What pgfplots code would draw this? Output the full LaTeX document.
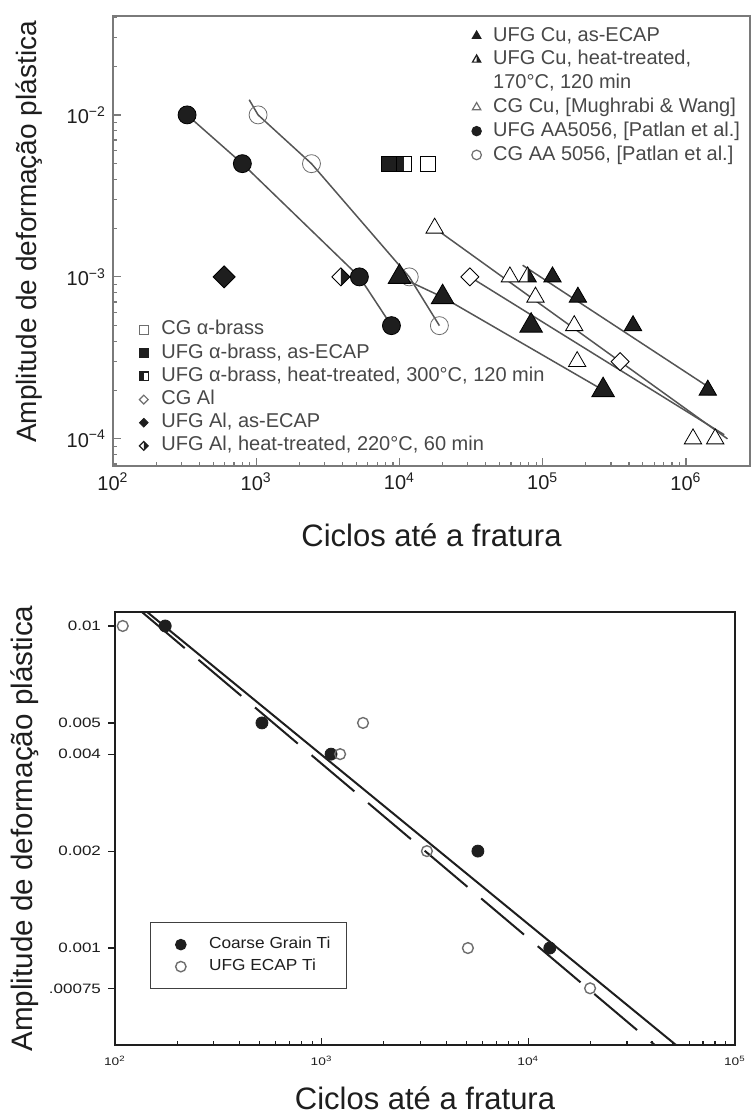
\documentclass[border=0pt]{standalone}
\usepackage{fontspec}
\setmainfont{Liberation Sans}
\usepackage{graphicx}
\usepackage{pgfplots}
\pgfplotsset{compat=1.18}

\definecolor{ink}{HTML}{1E1E1E}
\definecolor{txt}{HTML}{484848}
\definecolor{frame}{HTML}{7A7A7A}
\definecolor{fitline}{HTML}{555555}
\definecolor{hollow}{HTML}{6E6E6E}

\newcommand{\wide}[1]{\scalebox{1.25}[1]{#1}}

% triangle, centred on the point, outline and fill from the mark options
\pgfdeclareplotmark{tri}{%
  \pgfpathmoveto{\pgfqpointpolar{90}{\pgfplotmarksize}}%
  \pgfpathlineto{\pgfqpointpolar{-30}{\pgfplotmarksize}}%
  \pgfpathlineto{\pgfqpointpolar{210}{\pgfplotmarksize}}%
  \pgfpathclose\pgfusepathqfillstroke}
% triangle with its right half filled
\pgfdeclareplotmark{trihalf}{%
  \pgfpathmoveto{\pgfqpointpolar{90}{\pgfplotmarksize}}%
  \pgfpathlineto{\pgfqpointpolar{-30}{\pgfplotmarksize}}%
  \pgfpathlineto{\pgfqpointpolar{210}{\pgfplotmarksize}}%
  \pgfpathclose\pgfusepathqfill
  \pgfsetfillcolor{ink}%
  \pgfpathmoveto{\pgfqpointpolar{90}{\pgfplotmarksize}}%
  \pgfpathlineto{\pgfqpointpolar{-30}{\pgfplotmarksize}}%
  \pgfpathlineto{\pgfpoint{0pt}{-0.5\pgfplotmarksize}}%
  \pgfpathclose\pgfusepathqfill
  \pgfpathmoveto{\pgfqpointpolar{90}{\pgfplotmarksize}}%
  \pgfpathlineto{\pgfqpointpolar{-30}{\pgfplotmarksize}}%
  \pgfpathlineto{\pgfqpointpolar{210}{\pgfplotmarksize}}%
  \pgfpathclose\pgfusepathqstroke}
% diamond with equal diagonals
\pgfdeclareplotmark{dia}{%
  \pgfpathmoveto{\pgfpoint{0pt}{\pgfplotmarksize}}%
  \pgfpathlineto{\pgfpoint{\pgfplotmarksize}{0pt}}%
  \pgfpathlineto{\pgfpoint{0pt}{-\pgfplotmarksize}}%
  \pgfpathlineto{\pgfpoint{-\pgfplotmarksize}{0pt}}%
  \pgfpathclose\pgfusepathqfillstroke}
% diamond with its right half filled
\pgfdeclareplotmark{diahalf}{%
  \pgfpathmoveto{\pgfpoint{0pt}{\pgfplotmarksize}}%
  \pgfpathlineto{\pgfpoint{\pgfplotmarksize}{0pt}}%
  \pgfpathlineto{\pgfpoint{0pt}{-\pgfplotmarksize}}%
  \pgfpathlineto{\pgfpoint{-\pgfplotmarksize}{0pt}}%
  \pgfpathclose\pgfusepathqfill
  \pgfsetfillcolor{ink}%
  \pgfpathmoveto{\pgfpoint{0pt}{\pgfplotmarksize}}%
  \pgfpathlineto{\pgfpoint{\pgfplotmarksize}{0pt}}%
  \pgfpathlineto{\pgfpoint{0pt}{-\pgfplotmarksize}}%
  \pgfpathclose\pgfusepathqfill
  \pgfpathmoveto{\pgfpoint{0pt}{\pgfplotmarksize}}%
  \pgfpathlineto{\pgfpoint{\pgfplotmarksize}{0pt}}%
  \pgfpathlineto{\pgfpoint{0pt}{-\pgfplotmarksize}}%
  \pgfpathlineto{\pgfpoint{-\pgfplotmarksize}{0pt}}%
  \pgfpathclose\pgfusepathqstroke}
% square with its left half filled
\pgfdeclareplotmark{sqhalf}{%
  \pgfpathrectangle{\pgfpoint{-\pgfplotmarksize}{-\pgfplotmarksize}}{\pgfpoint{2\pgfplotmarksize}{2\pgfplotmarksize}}%
  \pgfusepathqfill
  \pgfsetfillcolor{ink}%
  \pgfpathrectangle{\pgfpoint{-\pgfplotmarksize}{-\pgfplotmarksize}}{\pgfpoint{\pgfplotmarksize}{2\pgfplotmarksize}}%
  \pgfusepathqfill
  \pgfpathrectangle{\pgfpoint{-\pgfplotmarksize}{-\pgfplotmarksize}}{\pgfpoint{2\pgfplotmarksize}{2\pgfplotmarksize}}%
  \pgfusepathqstroke}

\pgfplotsset{
  mk/.style={only marks, forget plot, mark options={solid, draw=ink, line width=0.7pt}},
  fit/.style={fitline, line width=0.75pt, no marks, forget plot},
  legimg/.style={legend image code/.code={%
      \path (0pt,0pt) (8pt,0pt);
      \draw[##1, only marks, mark size=#1] plot coordinates {(4pt,0pt)};}},
  legimgwide/.style={legend image code/.code={%
      \path (-4pt,0pt) (8pt,0pt);
      \draw[##1, only marks, mark size=#1] plot coordinates {(4pt,0pt)};}},
}

\begin{document}
\begin{tikzpicture}
\fill[white] (0,0) rectangle (376pt,558.5pt);
\useasboundingbox (0,0) rectangle (376pt,558.5pt);

% ---------------- upper figure: strain amplitude vs cycles, Cu / Al / brass
\begin{axis}[
  at={(56.5pt,325.5pt)}, anchor=south west,
  scale only axis, width=318.5pt, height=225pt,
  xmode=log, ymode=log, log basis x=10, log basis y=10,
  xmin=100, xmax=2.8e6, ymin=6.8e-5, ymax=0.0408,
  axis line style={draw=frame, line width=1pt},
  tick align=inside, xtick pos=left, ytick pos=left,
  major tick length=4pt, minor tick length=2.2pt,
  every tick/.style={draw=frame, line width=0.6pt},
  tick label style={font=\fontsize{10}{12}\selectfont, text=ink},
  xticklabel={\pgfmathtruncatemacro\ex{round(\tick)}10\textsuperscript{\ex}},
  yticklabel={\pgfmathtruncatemacro\ex{round(\tick)}10\textsuperscript{\ifnum\ex<0 −\number\numexpr-\ex\relax\else\ex\fi}},
  xlabel={Ciclos até a fratura},
  ylabel={Amplitude de deformação plástica},
  every axis x label/.style={at={(axis description cs:0.5,-0.153)}, anchor=center,
    font=\fontsize{15.5}{17}\selectfont, text=ink},
  every axis y label/.style={at={(axis description cs:-0.132,0.52)}, anchor=center, rotate=90,
    font=\fontsize{14}{16}\selectfont, text=ink},
  legimg=2.4pt, legend cell align=left,
  legend style={at={(0.557,0.983)}, anchor=north west, draw=none, fill=none,
    font=\fontsize{10}{12}\selectfont, text=txt, row sep=0pt, column sep=3pt, inner sep=0pt,
    nodes={inner sep=1.1pt, text height=7.4pt, text depth=2.3pt}},
]
% fit lines
\addplot[fit] coordinates {(329,0.01) (800,0.005) (5250,0.001) (8790,0.0005)};
\addplot[fit] coordinates {(893,0.0124) (1030,0.01) (2430,0.005) (11700,0.001) (19000,0.0005)};
\addplot[fit] coordinates {(10000,0.001) (20000,0.00075) (264000,0.0002)};
\addplot[fit] coordinates {(72400,0.00118) (1550000,0.0002)};
\addplot[fit] coordinates {(17600,0.002) (1950000,0.0001)};
\addplot[fit] coordinates {(31000,0.001) (1850000,0.000106)};
% UFG AA5056
\addplot[mk, mark=*, mark size=4.5pt, mark options={fill=ink}] coordinates {
  (329,0.01) (800,0.005) (5250,0.001) (8790,0.0005)};
% CG AA 5056
\addplot[mk, mark=o, mark size=4.5pt, mark options={draw=hollow}] coordinates {
  (1030,0.01) (2430,0.005) (11700,0.001) (19000,0.0005)};
% CG Cu
\addplot[mk, mark=tri, mark size=5pt, mark options={fill=white}] coordinates {
  (17600,0.002) (59000,0.001) (89000,0.00075) (166000,0.0005) (174000,0.0003)
  (1120000,0.0001) (1600000,0.0001)};
% UFG Cu, heat-treated
\addplot[mk, mark=trihalf, mark size=5pt, mark options={fill=white}] coordinates {
  (78500,0.001) (117000,0.001) (176000,0.00075) (427000,0.0005) (1420000,0.0002)};
% UFG Cu, as-ECAP
\addplot[mk, mark=tri, mark size=6.5pt, mark options={fill=ink}] coordinates {
  (10000,0.001) (20000,0.00075) (83000,0.0005) (264000,0.0002)};
% alpha-brass
\addplot[mk, mark=square*, mark size=3.75pt, mark options={fill=ink}] coordinates {(8500,0.005)};
\addplot[mk, mark=sqhalf, mark size=3.75pt, mark options={fill=white}] coordinates {(10700,0.005)};
\addplot[mk, mark=square, mark size=3.75pt, mark options={fill=white}] coordinates {(15700,0.005)};
% Al
\addplot[mk, mark=dia, mark size=4.5pt, mark options={fill=white}] coordinates {(31000,0.001) (347000,0.0003)};
\addplot[mk, mark=dia, mark size=5.5pt, mark options={fill=ink}] coordinates {(597,0.001)};
\addplot[mk, mark=diahalf, mark size=4.5pt, mark options={fill=white}] coordinates {(3900,0.001)};

\addlegendimage{only marks, mark=tri, mark options={draw=ink, fill=ink, line width=0.6pt}}
\addlegendentry{UFG Cu, as-ECAP}
\addlegendimage{only marks, mark=trihalf, mark options={draw=ink, fill=white, line width=0.6pt}}
\addlegendentry{UFG Cu, heat-treated,}
\addlegendimage{empty legend}
\addlegendentry{170°C, 120 min}
\addlegendimage{only marks, mark=tri, mark options={draw=hollow, fill=white, line width=0.6pt}}
\addlegendentry{CG Cu, [Mughrabi \& Wang]}
\addlegendimage{only marks, mark=*, mark options={draw=ink, fill=ink}}
\addlegendentry{UFG AA5056, [Patlan et al.]}
\addlegendimage{only marks, mark=o, mark options={draw=hollow, line width=0.6pt}}
\addlegendentry{CG AA 5056, [Patlan et al.]}
\end{axis}

% second legend of the upper figure (brass and Al)
\begin{axis}[
  at={(56.5pt,325.5pt)}, anchor=south west,
  scale only axis, width=318.5pt, height=225pt,
  xmode=log, ymode=log, xmin=100, xmax=2.8e6, ymin=6.8e-5, ymax=0.0408,
  hide axis,
  legimg=2.2pt, legend cell align=left,
  legend style={at={(0.0345,0.329)}, anchor=north west, draw=none, fill=none,
    font=\fontsize{10}{12}\selectfont, text=txt, row sep=0pt, column sep=3.5pt, inner sep=0pt,
    nodes={inner sep=1.1pt, text height=7.2pt, text depth=2.2pt}},
]
\addplot[draw=none, forget plot] coordinates {(1000,0.001)};
\addlegendimage{only marks, mark=square, mark options={draw=hollow, fill=white, line width=0.6pt}}
\addlegendentry{CG α-brass}
\addlegendimage{only marks, mark=square*, mark options={draw=ink, fill=ink}}
\addlegendentry{UFG α-brass, as-ECAP}
\addlegendimage{only marks, mark=sqhalf, mark options={draw=ink, fill=white, line width=0.6pt}}
\addlegendentry{UFG α-brass, heat-treated, 300°C, 120 min}
\addlegendimage{only marks, mark=dia, mark options={draw=hollow, fill=white, line width=0.6pt}}
\addlegendentry{CG Al}
\addlegendimage{only marks, mark=dia, mark options={draw=ink, fill=ink}}
\addlegendentry{UFG Al, as-ECAP}
\addlegendimage{only marks, mark=diahalf, mark options={draw=ink, fill=white, line width=0.6pt}}
\addlegendentry{UFG Al, heat-treated, 220°C, 60 min}
\end{axis}

% ---------------- lower figure: Ti
\begin{axis}[
  at={(57.5pt,36pt)}, anchor=south west,
  scale only axis, width=310pt, height=216.5pt,
  xmode=log, ymode=log, log basis x=10,
  xmin=100, xmax=1e5, ymin=5e-4, ymax=0.01105,
  axis line style={draw=ink, line width=1pt},
  xtick align=inside, ytick align=outside, xtick pos=left, ytick pos=left,
  major tick length=3.5pt, minor tick length=2pt,
  every tick/.style={draw=ink, line width=0.6pt},
  ytick={0.00075,0.001,0.002,0.004,0.005,0.01},
  yticklabels={\wide{.00075},\wide{0.001},\wide{0.002},\wide{0.004},\wide{0.005},\wide{0.01}},
  yminorticks=false,
  yticklabel style={font=\fontsize{6.8}{8}\selectfont, text=ink},
  xticklabel style={font=\fontsize{5.5}{7}\selectfont, text=ink, yshift=-2pt},
  xticklabel={\pgfmathtruncatemacro\ex{round(\tick)}\wide{10\textsuperscript{\ex}}},
  xlabel={Ciclos até a fratura},
  ylabel={Amplitude de deformação plástica},
  every axis x label/.style={at={(axis description cs:0.5,-0.122)}, anchor=center,
    font=\fontsize{15.5}{17}\selectfont, text=ink},
  every axis y label/.style={at={(axis description cs:-0.145,0.5)}, anchor=center, rotate=90,
    font=\fontsize{14.8}{16}\selectfont, text=ink},
  legimgwide=2.6pt, legend cell align=left,
  legend style={at={(0.0565,0.284)}, anchor=north west, draw=ink!85, line width=0.6pt, fill=white,
    font=\fontsize{8}{9}\selectfont, text=ink, row sep=0pt, column sep=8.6pt,
    inner xsep=6.8pt, inner ysep=5.5pt,
    nodes={inner sep=1.2pt, text height=6.4pt, text depth=2.2pt}},
]
\addplot[ink, line width=1pt, no marks, forget plot] coordinates {(143,0.01105) (51800,0.0005)};
\addplot[ink, line width=1pt, no marks, forget plot, dash pattern=on 28pt off 9pt] coordinates {(135,0.01105) (40900,0.0005)};
\addplot[only marks, mark=*, mark size=3pt, mark options={draw=ink, fill=ink}] coordinates {
  (175,0.01) (514,0.005) (1110,0.004) (5700,0.002) (12700,0.001)};
\addlegendentry{\scalebox{1.08}[1]{Coarse Grain Ti}}
\addplot[only marks, mark=o, mark size=2.7pt, mark options={draw=hollow, line width=0.7pt}] coordinates {
  (109,0.01) (1585,0.005) (1228,0.004) (3230,0.002) (5100,0.001) (19900,0.00075)};
\addlegendentry{\scalebox{1.08}[1]{UFG ECAP Ti}}
\end{axis}
\end{tikzpicture}
\end{document}
